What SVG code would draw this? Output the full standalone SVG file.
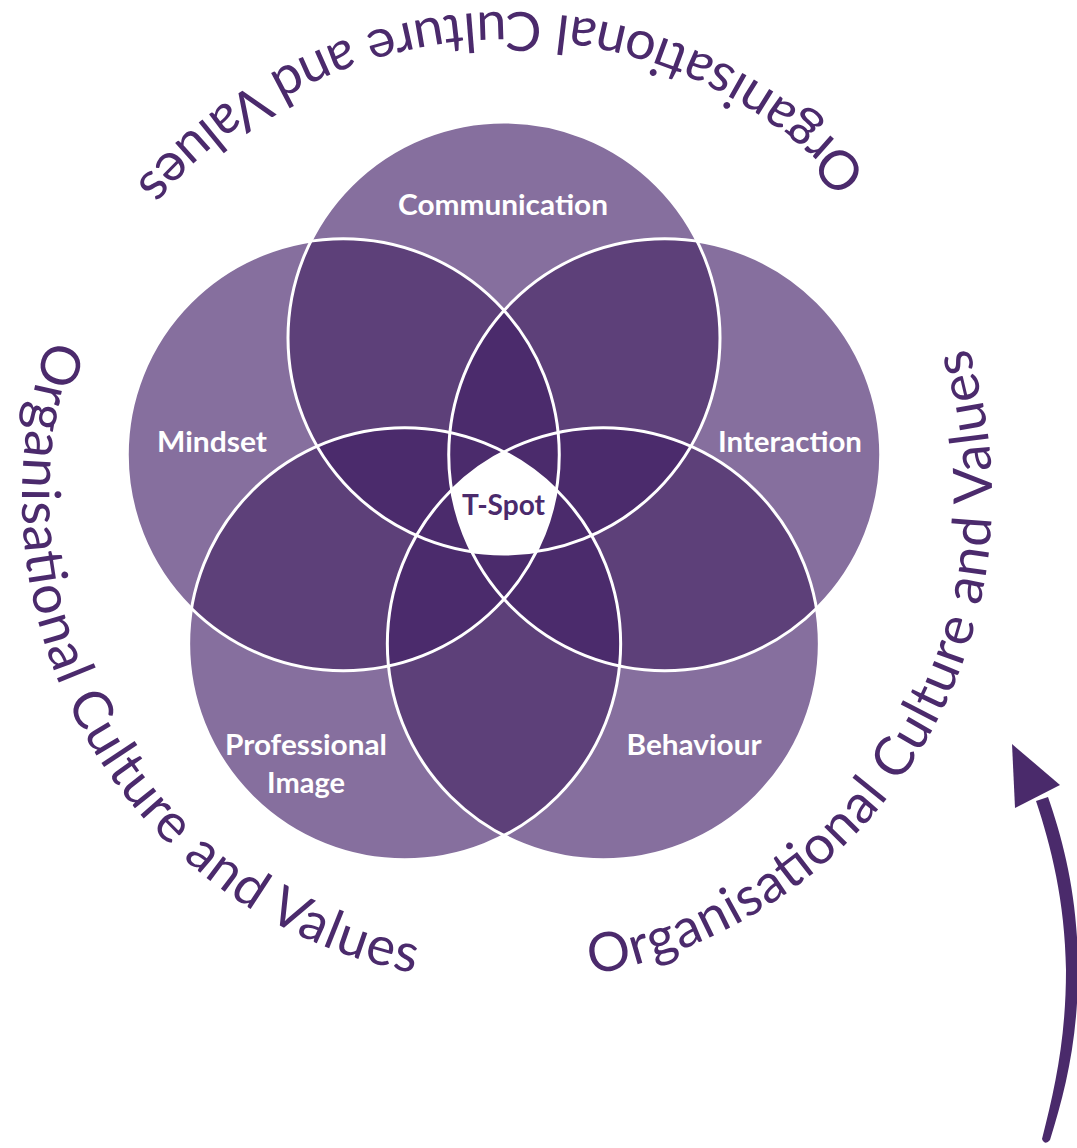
<svg xmlns="http://www.w3.org/2000/svg" width="1077" height="1148" viewBox="0 0 1077 1148">
  <style>
    .one{fill:#866f9e}
    .two{fill:#5d4079}
    .three{fill:#4b2b6c}
    .core{fill:#ffffff}
    .edge{fill:none;stroke:#ffffff;stroke-width:3}
    .lbl{font-family:Lato,"Open Sans","Liberation Sans",sans-serif;font-weight:700;font-size:28px;fill:#ffffff;text-anchor:middle}
    .lbl.dark{fill:#4b2a6c}
    .ring{font-family:Lato,"Open Sans","Liberation Sans",sans-serif;font-size:54px;fill:#4b2a6c}
    .ink{fill:#4a2a6b}
  </style>
  <defs>
    <!-- five circles on a pentagon around (504,507), r=216 -->
    <circle id="cA" cx="504" cy="338" r="216"/>
    <circle id="cB" cx="664.73" cy="454.78" r="216"/>
    <circle id="cC" cx="603.34" cy="643.72" r="216"/>
    <circle id="cD" cx="404.66" cy="643.72" r="216"/>
    <circle id="cE" cx="343.27" cy="454.78" r="216"/>
    <clipPath id="kA"><use href="#cA"/></clipPath>
    <clipPath id="kB"><use href="#cB"/></clipPath>
    <clipPath id="kC"><use href="#cC"/></clipPath>
    <clipPath id="kD"><use href="#cD"/></clipPath>
    <clipPath id="kE"><use href="#cE"/></clipPath>
    <!-- baseline arcs for the surrounding text, centre (507,497), r=485, drawn anticlockwise -->
    <path id="arcTop" d="M989.34,446.30 A485,485 0 0 0 23.18,463.17"/>
    <path id="arcLeft" d="M228.81,99.71 A485,485 0 0 0 711.97,936.56"/>
    <path id="arcRight" d="M294.39,932.91 A485,485 0 0 0 792.08,104.63"/>
  </defs>

  <rect width="1077" height="1148" fill="#ffffff"/>

  <!-- surrounding text ring -->
  <g id="ring-text" class="ring">
    <text><textPath href="#arcTop" startOffset="50%" text-anchor="middle" textLength="829" lengthAdjust="spacing">Organisational Culture and Values</textPath></text>
    <text><textPath href="#arcLeft" startOffset="50%" text-anchor="middle" textLength="829" lengthAdjust="spacing">Organisational Culture and Values</textPath></text>
    <text><textPath href="#arcRight" startOffset="50%" text-anchor="middle" textLength="829" lengthAdjust="spacing">Organisational Culture and Values</textPath></text>
  </g>

  <!-- circle nodes -->
  <g id="node-communication">
    <use href="#cA" class="one"/>
    <text class="lbl" x="503" y="215" textLength="210" lengthAdjust="spacingAndGlyphs">Communication</text>
  </g>
  <g id="node-interaction">
    <use href="#cB" class="one"/>
    <text class="lbl" x="790" y="452" textLength="144" lengthAdjust="spacingAndGlyphs">Interaction</text>
  </g>
  <g id="node-behaviour">
    <use href="#cC" class="one"/>
    <text class="lbl" x="694" y="755" textLength="135" lengthAdjust="spacingAndGlyphs">Behaviour</text>
  </g>
  <g id="node-professional-image">
    <use href="#cD" class="one"/>
    <text class="lbl" x="306" y="755" textLength="162" lengthAdjust="spacingAndGlyphs">Professional</text>
    <text class="lbl" x="306" y="793" textLength="78" lengthAdjust="spacingAndGlyphs">Image</text>
  </g>
  <g id="node-mindset">
    <use href="#cE" class="one"/>
    <text class="lbl" x="212" y="452" textLength="110" lengthAdjust="spacingAndGlyphs">Mindset</text>
  </g>

  <!-- overlaps: two circles -->
  <g id="overlap-two" class="two">
    <g clip-path="url(#kA)"><use href="#cB"/></g>
    <g clip-path="url(#kA)"><use href="#cC"/></g>
    <g clip-path="url(#kA)"><use href="#cD"/></g>
    <g clip-path="url(#kA)"><use href="#cE"/></g>
    <g clip-path="url(#kB)"><use href="#cC"/></g>
    <g clip-path="url(#kB)"><use href="#cD"/></g>
    <g clip-path="url(#kB)"><use href="#cE"/></g>
    <g clip-path="url(#kC)"><use href="#cD"/></g>
    <g clip-path="url(#kC)"><use href="#cE"/></g>
    <g clip-path="url(#kD)"><use href="#cE"/></g>
  </g>

  <!-- overlaps: three or more circles -->
  <g id="overlap-three" class="three">
    <g clip-path="url(#kA)"><g clip-path="url(#kB)"><use href="#cC"/></g></g>
    <g clip-path="url(#kA)"><g clip-path="url(#kB)"><use href="#cD"/></g></g>
    <g clip-path="url(#kA)"><g clip-path="url(#kB)"><use href="#cE"/></g></g>
    <g clip-path="url(#kA)"><g clip-path="url(#kC)"><use href="#cD"/></g></g>
    <g clip-path="url(#kA)"><g clip-path="url(#kC)"><use href="#cE"/></g></g>
    <g clip-path="url(#kA)"><g clip-path="url(#kD)"><use href="#cE"/></g></g>
    <g clip-path="url(#kB)"><g clip-path="url(#kC)"><use href="#cD"/></g></g>
    <g clip-path="url(#kB)"><g clip-path="url(#kC)"><use href="#cE"/></g></g>
    <g clip-path="url(#kB)"><g clip-path="url(#kD)"><use href="#cE"/></g></g>
    <g clip-path="url(#kC)"><g clip-path="url(#kD)"><use href="#cE"/></g></g>
  </g>

  <!-- centre where all five meet -->
  <g id="node-t-spot">
    <g clip-path="url(#kA)"><g clip-path="url(#kB)"><g clip-path="url(#kC)"><g clip-path="url(#kD)"><use href="#cE" class="core"/></g></g></g></g>
  </g>

  <!-- white circle outlines -->
  <g id="outlines" class="edge">
    <use href="#cA"/>
    <use href="#cB"/>
    <use href="#cC"/>
    <use href="#cD"/>
    <use href="#cE"/>
  </g>

  <text id="t-spot-label" class="lbl dark" x="503.5" y="515" textLength="83" lengthAdjust="spacingAndGlyphs">T-Spot</text>

  <!-- brush arrow, bottom right: tapered shaft plus head -->
  <g id="connectors" class="ink">
    <path d="M1036,801 C1051,846 1065,901 1066,970 C1066,1038 1055,1088 1042,1139 Q1045,1146 1050,1140 C1065,1092 1078,1040 1078,970 C1078,898 1064,843 1048,797 Z"/>
    <polygon points="1012,744 1060,785 1015,808"/>
  </g>
</svg>
